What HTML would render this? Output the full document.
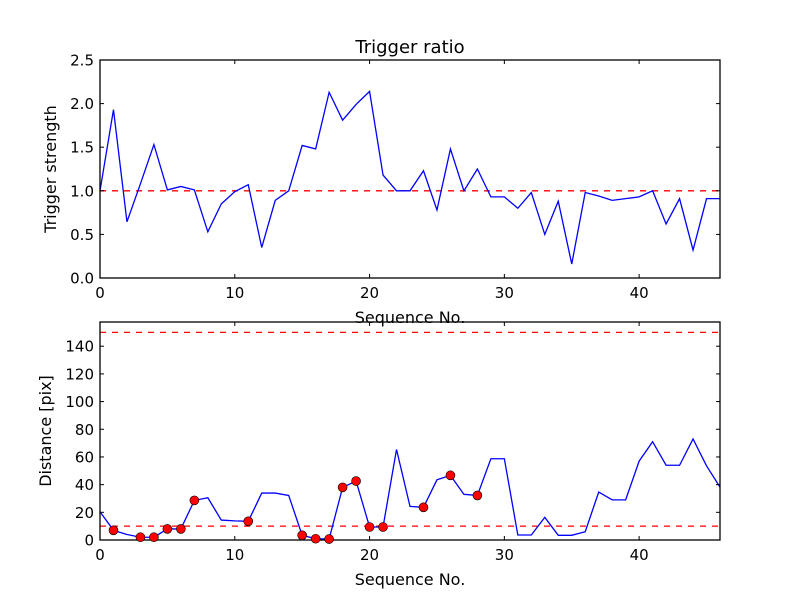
<!DOCTYPE html>
<html><head><meta charset="utf-8"><style>
html,body{margin:0;padding:0;background:#fff;}
svg{display:block;font-family:"DejaVu Sans","Liberation Sans",sans-serif;}
</style></head><body>
<svg id="chart" width="800" height="600" viewBox="0 0 800 600" xmlns="http://www.w3.org/2000/svg">
<rect width="800" height="600" fill="#fff"/>
</svg>
<script>
const seq = Array.from({length:47},(_,i)=>i);
const triggerValues = [1.0,1.93,0.645,1.08,1.53,1.01,1.05,1.01,0.53,0.85,0.99,1.07,0.35,0.89,1.0,1.52,1.48,2.13,1.81,1.99,2.14,1.18,1.0,1.0,1.23,0.78,1.48,1.0,1.25,0.93,0.93,0.8,0.98,0.5,0.88,0.16,0.98,0.94,0.89,0.91,0.93,1.0,0.62,0.91,0.32,0.91,0.91];
const distanceValues = [20.4,7,4,2,2,8,8,28.6,30.5,14.4,13.8,13.5,33.9,33.9,32.2,3.4,0.9,0.7,38,42.6,9.4,9.4,65.4,24.3,23.6,43.5,46.7,33,32.2,58.7,58.7,3.6,3.6,16.4,3.4,3.4,6,34.6,29,29,57,71,54,54,73,53.6,38.2];
const markerIdx = [1,3,4,5,6,7,11,15,16,17,18,19,20,21,24,26,28];
const triggerThreshold = [1.0];
const distThresholds = [10,150];
const xTicks = [0,10,20,30,40];
const yTicksTop = [0.0,0.5,1.0,1.5,2.0,2.5];
const yTicksBot = [0,20,40,60,80,100,120,140];

const svg=document.getElementById('chart');
const NS='http://www.w3.org/2000/svg';
function mk(tag,attrs,parent){const e=document.createElementNS(NS,tag);for(const k in attrs)e.setAttribute(k,attrs[k]);(parent||svg).appendChild(e);return e;}
const L=100,R=720;
const xS=v=>L+(v-0)/(46-0)*(R-L);

function panel(name,top,bottom,ymin,ymax,yt,fmt,vals,thr,ylabel,title){
  const g=mk('g',{});
  
  
  const yS=v=>bottom-(v-ymin)/(ymax-ymin)*(bottom-top);
  thr.forEach(t=>{const l=mk('line',{x1:L,x2:R,y1:yS(t),y2:yS(t),stroke:'#ff0000','stroke-width':1.3,'stroke-dasharray':'6,6'},g);
    });
  const pts=seq.map((s,i)=>xS(s).toFixed(2)+','+yS(vals[i]).toFixed(2)).join(' ');
  const pl=mk('polyline',{points:pts,fill:'none',stroke:'#0000ff','stroke-width':1.3},g);
  
  const fr=mk('rect',{x:L,y:top,width:R-L,height:bottom-top,fill:'none',stroke:'#000','stroke-width':1.3},g);
  
  xTicks.forEach(t=>{const x=xS(t);
    mk('line',{x1:x,x2:x,y1:bottom,y2:bottom-4,stroke:'#000'},g);
    mk('line',{x1:x,x2:x,y1:top,y2:top+4,stroke:'#000'},g);
    const tx=mk('text',{x:x,y:bottom+20,'text-anchor':'middle','font-size':15},g);tx.textContent=t;
    });
  yt.forEach(t=>{const y=yS(t);
    mk('line',{x1:L,x2:L+4,y1:y,y2:y,stroke:'#000'},g);
    mk('line',{x1:R,x2:R-4,y1:y,y2:y,stroke:'#000'},g);
    const tx=mk('text',{x:L-6,y:y+5.5,'text-anchor':'end','font-size':15},g);tx.textContent=fmt(t);
    });
  const xl=mk('text',{x:(L+R)/2,y:bottom+45,'text-anchor':'middle','font-size':16},g);xl.textContent='Sequence No.';
  
  const yx=(name==='top-panel')?56:51;
  const yl=mk('text',{x:yx,y:(top+bottom)/2,'text-anchor':'middle','font-size':16,transform:`rotate(-90 ${yx} ${(top+bottom)/2})`},g);yl.textContent=ylabel;
  
  if(title){const ti=mk('text',{x:(L+R)/2,y:top-7,'text-anchor':'middle','font-size':18},g);ti.textContent=title;
    }
  return yS;
}
panel('top-panel',60,278,0,2.5,yTicksTop,t=>t.toFixed(1),triggerValues,triggerThreshold,'Trigger strength','Trigger ratio');
const yB=panel('bottom-panel',322,540,0,157.5,yTicksBot,t=>String(t),distanceValues,distThresholds,'Distance [pix]',null);
markerIdx.forEach(i=>{const c=mk('circle',{cx:xS(seq[i]),cy:yB(distanceValues[i]),r:4.5,fill:'#ff0000',stroke:'#000','stroke-width':0.6});
  
  });
</script>
</body></html>
